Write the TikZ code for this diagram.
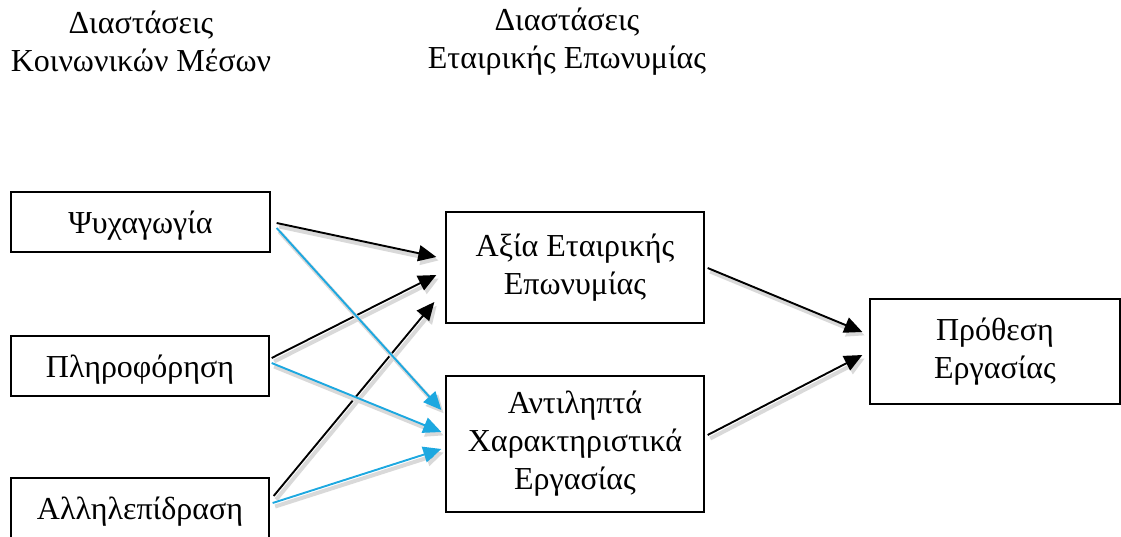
\documentclass[tikz,border=0pt]{standalone}
\usepackage{fontspec}
\setmainfont{Liberation Serif}
\usetikzlibrary{arrows.meta}
\definecolor{arrblue}{RGB}{29,168,224}
\tikzset{
  box/.style={draw=black, line width=1.3pt, fill=white, align=center, inner sep=0pt},
  onebox/.style={box, text height=23pt, text depth=0pt},
  lbl/.style={align=center, inner sep=0pt},
  conn/.style={line width=1.9pt, -{Triangle[length=18pt,width=16pt]},
    preaction={draw=black!15, line width=4pt, transform canvas={shift={(2.5pt,-3.5pt)}}}},
  blk/.style={conn, draw=black},
  blu/.style={conn, draw=arrblue, -{Triangle[length=18pt,width=16pt,fill=arrblue]}},
}
\begin{document}
\begin{tikzpicture}[x=1pt, y=-1pt, font=\fontsize{32}{38}\selectfont]
\useasboundingbox (0,0) rectangle (1121,537);
\node[lbl] (h1) at (141,41.5) {Διαστάσεις\\Κοινωνικών Μέσων};
\node[lbl] (h2) at (567,41.5) {Διαστάσεις\\Εταιρικής Επωνυμίας};
\node[onebox, minimum width=259pt, minimum height=60pt] (psy) at (140.5,222) {Ψυχαγωγία};
\node[onebox, minimum width=258pt, minimum height=60pt] (pli) at (140,366) {Πληροφόρηση};
\node[onebox, minimum width=258pt, minimum height=60pt] (all) at (140,508) {Αλληλεπίδραση};
\node[box, minimum width=258pt, minimum height=111pt] (axia) at (575,267.5) {Αξία Εταιρικής\\Επωνυμίας};
\node[box, minimum width=258pt, minimum height=136pt] (antil) at (575,444) {Αντιληπτά\\Χαρακτηριστικά\\Εργασίας};
\node[box, minimum width=250pt, minimum height=105pt] (prot) at (995,351.5) {Πρόθεση\\Εργασίας};
% black arrows to axia
\draw[blk] ([shift={(6,1)}]psy.east) -- ([shift={(-9,-10.5)}]axia.west);
\draw[blk] ([shift={(2,-8)}]pli.east) -- ([shift={(-9,7.5)}]axia.west);
\draw[blk] ([shift={(4,-12)}]all.east) -- ([shift={(-11,34.5)}]axia.west);
% blue arrows to antil
\draw[blu] ([shift={(6,6)}]psy.east) -- ([shift={(-4,-34)}]antil.west);
\draw[blu] ([shift={(2,-3)}]pli.east) -- ([shift={(-4,-12)}]antil.west);
\draw[blu] ([shift={(3,-5)}]all.east) -- ([shift={(-4,5)}]antil.west);
% to prot
\draw[blk] ([shift={(3,0.5)}]axia.east) -- ([shift={(-7,-19.5)}]prot.west);
\draw[blk] ([shift={(3,-9)}]antil.east) -- ([shift={(-7,3.5)}]prot.west);
\end{tikzpicture}
\end{document}
